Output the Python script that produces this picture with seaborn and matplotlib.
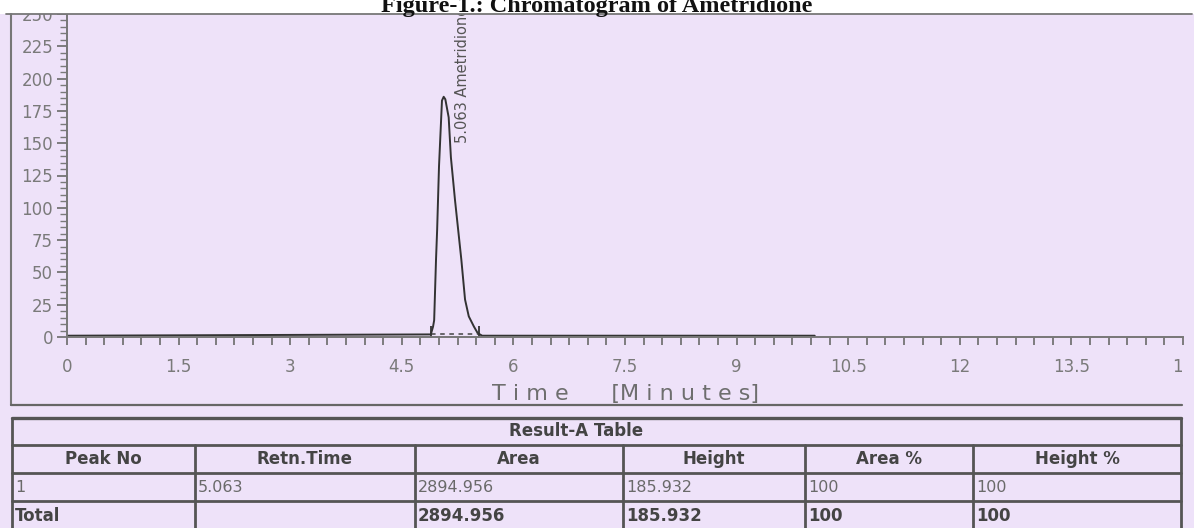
import numpy as np
import pandas as pd
import matplotlib
matplotlib.use("Agg")
import matplotlib.pyplot as plt
import seaborn as sns
from matplotlib.lines import Line2D
from matplotlib.patches import Rectangle
from matplotlib.ticker import MultipleLocator
from matplotlib.transforms import Bbox, TransformedBbox

# ---------------- data ----------------
time_min = [0.0, 4.89, 4.92, 4.935, 4.96, 4.975, 5.00, 5.04, 5.063, 5.085,
            5.13, 5.16, 5.215, 5.30, 5.35, 5.40, 5.47, 5.52, 5.58, 10.05]
signal_mv = [1, 2, 8, 13, 60, 83, 132, 183, 185.932, 184,
             170, 139, 106, 60, 29, 16, 8, 3, 1, 1]
peak_bounds = [4.89, 5.54]
peak_baseline = [2.5, 2.5]
peak_label = "5.063 Ametridione"
peak_label_pos = (5.31, 150)

x_ticks = [0, 1.5, 3, 4.5, 6, 7.5, 9, 10.5, 12, 13.5, 15]
x_tick_labels = ["0", "1.5", "3", "4.5", "6", "7.5", "9", "10.5", "12", "13.5", "15"]
y_ticks = [0, 25, 50, 75, 100, 125, 150, 175, 200, 225, 250]
y_tick_labels = [str(v) for v in y_ticks]

title = "Figure-1.: Chromatogram of Ametridione"
x_label = "T i m e      [M i n u t e s]"

table_title = "Result-A Table"
table_headers = ["Peak No", "Retn.Time", "Area", "Height", "Area %", "Height %"]
table_row = ["1", "5.063", "2894.956", "185.932", "100", "100"]
table_total = ["Total", "", "2894.956", "185.932", "100", "100"]

# ---------------- style ----------------
BG = "#EEE2F9"
W, H = 1194, 528
sns.set_theme(style="white")
plt.rcParams["font.family"] = ["DejaVu Sans"]

fig = plt.figure(figsize=(W / 100, H / 100), dpi=100, facecolor=BG)


def fx(px):
    return px / W


def fy(py):
    return 1 - py / H


ax = fig.add_axes([fx(67), fy(337), fx(1183) - fx(67), fy(14) - fy(337)])
ax.set_facecolor(BG)

df = pd.DataFrame({"time": time_min, "signal": signal_mv})
sns.lineplot(data=df, x="time", y="signal", ax=ax, color="#333333",
             linewidth=1.4, sort=False, estimator=None)

ax.plot(peak_bounds, peak_baseline, ls=(0, (3, 3)), color="#444444", lw=1.1)
ax.plot(peak_bounds, [3, 3], ls="none", marker="|", ms=10, mew=1.3, color="#333333")
ax.text(peak_label_pos[0], peak_label_pos[1], peak_label, rotation=90,
        ha="center", va="bottom", fontsize=10.5, color="#555555", clip_on=True)

ax.set_xlim(0, 15)
ax.set_ylim(0, 250)
ax.set_xticks(x_ticks)
ax.set_xticklabels(x_tick_labels)
ax.set_yticks(y_ticks)
ax.set_yticklabels(y_tick_labels)
ax.xaxis.set_minor_locator(MultipleLocator(0.25))
ax.yaxis.set_minor_locator(MultipleLocator(5))
ax.tick_params(axis="x", which="both", bottom=True, top=False, direction="out",
               length=6, width=1.2, color="#6a6a6a", labelsize=12,
               labelcolor="#7a7a7a", pad=9)
ax.tick_params(axis="y", which="major", left=True, right=False, direction="out",
               length=7, width=1.2, color="#6a6a6a", labelsize=12,
               labelcolor="#7a7a7a", pad=3)
ax.tick_params(axis="y", which="minor", left=True, right=False, direction="out",
               length=5, width=1.0, color="#7a7a7a")
ax.set_xlabel(x_label, fontsize=16, color="#6e6e6e", labelpad=6)
ax.set_ylabel("")
for side in ["top", "right"]:
    ax.spines[side].set_visible(False)
for side in ["left", "bottom"]:
    ax.spines[side].set_color("#777777")
    ax.spines[side].set_linewidth(1.4)
ax.grid(False)

# last x label clipped at the chart's right edge
clip = TransformedBbox(Bbox([[0, 0], [fx(1182), 1]]), fig.transFigure)
for lbl in ax.get_xticklabels():
    lbl.set_clip_box(clip)
    lbl.set_clip_on(True)

# white strip with title above the chart frame
fig.add_artist(Rectangle((0, fy(14)), 1, 1 - fy(14), transform=fig.transFigure,
                         facecolor="white", edgecolor="none", zorder=2))
fig.text(0.5, fy(12), title, ha="center", va="baseline", fontsize=17.5,
         fontweight="bold", family="Liberation Serif", color="#111111", zorder=5)


def hline(x0, x1, y, lw=1.5, color="#666666"):
    fig.add_artist(Line2D([fx(x0), fx(x1)], [fy(y), fy(y)],
                          transform=fig.transFigure, color=color, lw=lw, zorder=4))


def vline(x, y0, y1, lw=1.5, color="#666666"):
    fig.add_artist(Line2D([fx(x), fx(x)], [fy(y0), fy(y1)],
                          transform=fig.transFigure, color=color, lw=lw, zorder=4))


# chart frame
hline(6, 1192, 14, lw=1.3, color="#777777")
vline(11, 14, 405, lw=1.5, color="#777777")
hline(11, 1182, 405, lw=1.6, color="#666666")

# ---------------- table ----------------
col_edges = [12, 195, 415, 623, 805, 973, 1181]
row_edges = [418, 445, 473, 501, 531]
TC = "#555555"
hline(col_edges[0], col_edges[-1], row_edges[0], lw=2.4, color=TC)
for y in row_edges[1:]:
    hline(col_edges[0], col_edges[-1], y, lw=2.0, color=TC)
vline(col_edges[0], row_edges[0], row_edges[-1], lw=2.0, color=TC)
vline(col_edges[-1], row_edges[0], row_edges[-1], lw=2.0, color=TC)
for x in col_edges[1:-1]:
    vline(x, row_edges[1], row_edges[-1], lw=2.0, color=TC)

fig.text(fx(576), fy((row_edges[0] + row_edges[1]) / 2), table_title,
         ha="center", va="center", fontsize=12, fontweight="bold", color="#444444")
for i, h in enumerate(table_headers):
    cx = (col_edges[i] + col_edges[i + 1]) / 2
    fig.text(fx(cx), fy((row_edges[1] + row_edges[2]) / 2), h, ha="center",
             va="center", fontsize=12, fontweight="bold", color="#444444")
for i, v in enumerate(table_row):
    fig.text(fx(col_edges[i] + 3), fy((row_edges[2] + row_edges[3]) / 2 + 1), v,
             ha="left", va="center", fontsize=11.5, color="#6a6a6a")
for i, v in enumerate(table_total):
    fig.text(fx(col_edges[i] + 3), fy((row_edges[3] + row_edges[4]) / 2), v,
             ha="left", va="center", fontsize=12, fontweight="bold", color="#444444")

fig.savefig("out.png", dpi=100, facecolor=BG)
